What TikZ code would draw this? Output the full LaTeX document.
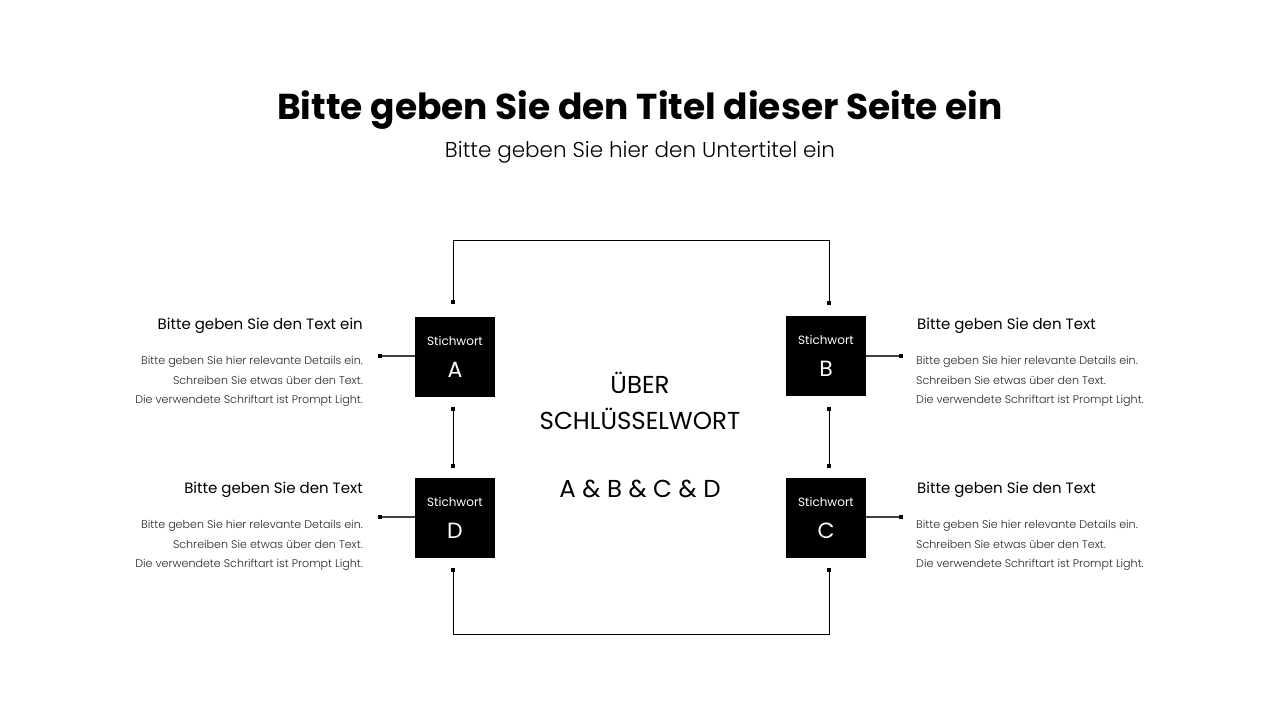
\documentclass[tikz,border=0pt]{standalone}
\usepackage{fontspec}
\setmainfont{Poppins}
\begin{document}
\begin{tikzpicture}[x=1pt,y=-1pt,
  kbox/.style={fill=black,minimum width=80pt,minimum height=80pt,inner sep=0pt},
  conn/.style={line width=1pt,black},
  endsq/.style={fill=black,minimum size=3.5pt,inner sep=0pt},
  head/.style={font=\fontsize{15}{18}\selectfont\mdseries,inner sep=0pt},
  det/.style={font=\fontsize{11.1}{19.5}\selectfont\light, text=black!85,inner sep=0pt},
]
\newfontfamily\light{Poppins Light}
\useasboundingbox (0,0) rectangle (1280,720);
\node[font=\fontsize{36}{42}\selectfont\bfseries] (title) at (640,110) {Bitte geben Sie den Titel dieser Seite ein};
\node[font=\fontsize{21.5}{24}\selectfont\light] (sub) at (640,152) {Bitte geben Sie hier den Untertitel ein};

\node[kbox] (A) at (455,356.5) {};
\node[kbox] (B) at (826,356) {};
\node[kbox] (D) at (455,518) {};
\node[kbox] (C) at (826,518) {};
\foreach \n/\l in {A/A,B/B,C/C,D/D}{
  \node[text=white,font=\fontsize{12}{14}\selectfont] (\n s) at ([yshift=16pt]\n.center) {Stichwort};
  \node[text=white,font=\fontsize{22}{24}\selectfont] (\n l) at ([yshift=-13pt]\n.center) {\l};
}

\coordinate (ta) at (453,302); \coordinate (tb) at (829,303);
\coordinate (tl) at (453,240); \coordinate (tr) at (829,240);
\draw[conn] (ta) -- (tl) -- (tr) -- (tb);
\coordinate (ba) at (453,570); \coordinate (bb) at (829,570);
\coordinate (bl) at (453,634); \coordinate (br) at (829,634);
\draw[conn] (ba) -- (bl) -- (br) -- (bb);
\coordinate (ad1) at (453,409); \coordinate (ad2) at (453,466);
\coordinate (bc1) at (829,409); \coordinate (bc2) at (829,466);
\draw[conn] (ad1) -- (ad2); \draw[conn] (bc1) -- (bc2);
\coordinate (la) at (380,356); \coordinate (rb) at (901,356);
\coordinate (ld) at (380,517); \coordinate (rc) at (901,517);
\draw[conn,black!75,line width=1.5pt] (la) -- (A.west|-la);
\draw[conn,black!75,line width=1.5pt] (rb) -- (B.east|-rb);
\draw[conn,black!75,line width=1.5pt] (ld) -- (D.west|-ld);
\draw[conn,black!75,line width=1.5pt] (rc) -- (C.east|-rc);
\foreach \c in {ta,tb,ba,bb,ad1,ad2,bc1,bc2,la,rb,ld,rc}
  \node[endsq] at (\c) {};

\node[font=\fontsize{24.5}{36}\selectfont,align=center] (mid) at (640,401) {ÜBER\\SCHLÜSSELWORT};
\node[font=\fontsize{24.5}{28}\selectfont] (abcd) at (640,489) {A \& B \& C \& D};

\node[head,anchor=east] (h1) at (363,326) {Bitte geben Sie den Text ein};
\node[det,anchor=north east,align=right] (d1) at (363,356) {Bitte geben Sie hier relevante Details ein.\\Schreiben Sie etwas über den Text.\\Die verwendete Schriftart ist Prompt Light.};
\node[head,anchor=east] (h4) at (363,490) {Bitte geben Sie den Text};
\node[det,anchor=north east,align=right] (d4) at (363,520) {Bitte geben Sie hier relevante Details ein.\\Schreiben Sie etwas über den Text.\\Die verwendete Schriftart ist Prompt Light.};
\node[head,anchor=west] (h2) at (917,326) {Bitte geben Sie den Text};
\node[det,anchor=north west,align=left] (d2) at (916,356) {Bitte geben Sie hier relevante Details ein.\\Schreiben Sie etwas über den Text.\\Die verwendete Schriftart ist Prompt Light.};
\node[head,anchor=west] (h3) at (917,490) {Bitte geben Sie den Text};
\node[det,anchor=north west,align=left] (d3) at (916,520) {Bitte geben Sie hier relevante Details ein.\\Schreiben Sie etwas über den Text.\\Die verwendete Schriftart ist Prompt Light.};
\end{tikzpicture}
\end{document}
